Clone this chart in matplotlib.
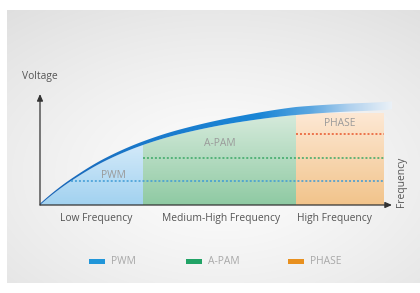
import numpy as np
import matplotlib
matplotlib.use("Agg")
import matplotlib.pyplot as plt
from matplotlib.colors import to_rgb
from matplotlib.patches import Polygon, Rectangle

# ---------------- data ----------------
regions = ["Low Frequency", "Medium-High Frequency", "High Frequency"]
region_edges = [0, 103, 256, 344]          # frequency (relative units)
region_names = ["PWM", "A-PAM", "PHASE"]
curve_x = [0, 15, 31, 65, 103, 140, 200, 256, 300, 344, 356]
curve_y = [0, 12.5, 24, 44, 60, 71, 83, 90, 93, 95, 96]
phase_top = 92
levels = [24, 47, 71]                      # dotted levels for PWM, A-PAM, PHASE
legend_labels = ["PWM", "A-PAM", "PHASE"]

# ---------------- styles ----------------
W, H, DPI = 420, 293, 100
legend_colors = ["#2196d9", "#21a366", "#e8901f"]
grad_top = ["#d2e9f9", "#d5eadb", "#fde8d4"]
grad_bot = ["#a2d2f0", "#8fcaa3", "#f2c48b"]
dot_colors = ["#3d9ad6", "#3aa866", "#e8552a"]
label_color = "#9a9a9a"
axis_text = "#555555"
FONT = ["Open Sans", "DejaVu Sans"]
FS = 7.4


def pchip(x, y, xq):
    x = np.asarray(x, float); y = np.asarray(y, float)
    h = np.diff(x); d = np.diff(y) / h
    m = np.zeros_like(y)
    for i in range(1, len(x) - 1):
        if d[i - 1] * d[i] > 0:
            w1 = 2 * h[i] + h[i - 1]; w2 = h[i] + 2 * h[i - 1]
            m[i] = (w1 + w2) / (w1 / d[i - 1] + w2 / d[i])
    m[0] = ((2 * h[0] + h[1]) * d[0] - h[0] * d[1]) / (h[0] + h[1])
    m[-1] = d[-1]
    idx = np.clip(np.searchsorted(x, xq) - 1, 0, len(x) - 2)
    t = (xq - x[idx]) / h[idx]
    h00 = 2 * t**3 - 3 * t**2 + 1; h10 = t**3 - 2 * t**2 + t
    h01 = -2 * t**3 + 3 * t**2; h11 = t**3 - t**2
    return h00 * y[idx] + h10 * h[idx] * m[idx] + h01 * y[idx + 1] + h11 * h[idx] * m[idx + 1]


fig = plt.figure(figsize=(W / DPI, H / DPI), dpi=DPI)
fig.patch.set_facecolor("white")

# background panel
bg = fig.add_axes([0, 0, 1, 1], zorder=0)
bg.axis("off")
yy, xx = np.mgrid[0:140, 0:200]
cx, cy = 0.52, 0.6
r = np.sqrt(((xx / 199 - cx) / 0.75) ** 2 + ((yy / 139 - cy) / 0.7) ** 2)
v = np.clip(0.99 - 0.1 * r ** 1.3, 0, 1)
img = np.dstack([v, v, v])
bg.imshow(img, extent=(7, W, 283, 10), aspect="auto", interpolation="bilinear", zorder=0)
bg.set_xlim(0, W)
bg.set_ylim(H, 0)

# main chart axes (pixel-like units)
x0p, y0p, x1p, y1p = 40, 205, 392, 94
ax = fig.add_axes([x0p / W, (H - y0p) / H, (x1p - x0p) / W, (y0p - y1p) / H], zorder=1)
ax.set_facecolor("none")
ax.axis("off")

xd = np.linspace(curve_x[0], curve_x[-1], 800)
yd = pchip(curve_x, curve_y, xd)


def vgrad(ctop, cbot, n=100):
    t = np.linspace(0, 1, n)[:, None]
    a = np.array(to_rgb(ctop))
    b = np.array(to_rgb(cbot))
    return (a * (1 - t) + b * t)[:, None, :].repeat(2, axis=1)


for i in range(3):
    xa, xb = region_edges[i], region_edges[i + 1]
    m = (xd >= xa) & (xd <= xb)
    xs = xd[m]
    if i < 2:
        ys = yd[m]
        top = ys.max()
    else:
        ys = np.full_like(xs, phase_top)
        top = phase_top
    verts = np.vstack([[xa, 0], [xa, ys[0]], np.column_stack([xs, ys]), [xb, ys[-1]], [xb, 0]])
    patch = Polygon(verts, closed=True, facecolor="none", edgecolor="none")
    ax.add_patch(patch)
    im = ax.imshow(vgrad(grad_top[i], grad_bot[i]), extent=(xa, xb, 0, top),
                   aspect="auto", interpolation="bilinear", zorder=1)
    im.set_clip_path(patch)

# curve band with gradient
thick = np.interp(xd, [0, 31, 103, 200, 256, 356], [1.3, 2.0, 3.6, 6.0, 8.0, 8.0])
verts = np.vstack([np.column_stack([xd, yd]), np.column_stack([xd[::-1], (yd + thick)[::-1]])])
band = Polygon(verts, closed=True, facecolor="none", edgecolor="none")
ax.add_patch(band)
stops_x = [0, 100, 220, 270, 310, 356]
stops_c = ["#1864b6", "#1a79cb", "#1a86d6", "#5aa6e0", "#b0d1ee", "#f0f4f8"]
gx = np.linspace(0, 356, 400)
rgb = np.array([to_rgb(c) for c in stops_c])
gimg = np.stack([np.interp(gx, stops_x, rgb[:, j]) for j in range(3)], axis=-1)[None, :, :].repeat(2, axis=0)
im = ax.imshow(gimg, extent=(0, 356, 0, 111), aspect="auto", interpolation="bilinear", zorder=2)
im.set_clip_path(band)

# dotted levels
starts = [float(np.interp(levels[0], yd, xd)), region_edges[1], region_edges[2]]
for i in range(3):
    ax.plot([starts[i], region_edges[3]], [levels[i], levels[i]], color=dot_colors[i],
            lw=1.1, ls=(0, (1.3, 1.3)), zorder=3)

# region labels
label_pos = [(73, 29), (180, 62), (300, 81)]
for name, (lx, ly) in zip(region_names, label_pos):
    ax.text(lx, ly, name, color=label_color, fontsize=FS, ha="center", va="center",
            family=FONT, zorder=4)

ax.set_xlim(0, x1p - x0p)
ax.set_ylim(0, y0p - y1p)

# axes arrows
arr = dict(arrowstyle="-|>,head_length=0.5,head_width=0.22", color="#333333", lw=0.9,
           shrinkA=0, shrinkB=0, mutation_scale=8)
ax.annotate("", xy=(0, 1), xytext=(0, 0), xycoords="axes fraction", arrowprops=arr, zorder=5)
ax.annotate("", xy=(1, 0), xytext=(0, 0), xycoords="axes fraction", arrowprops=arr, zorder=5)

# axis texts
bg.text(22, 76, "Voltage", color=axis_text, fontsize=FS, ha="left", va="center", family=FONT)
bg.text(401, 182, "Frequency", color=axis_text, fontsize=FS, ha="center", va="center",
        rotation=90, family=FONT)
cat_x = [96, 221, 334]
for name, cx_ in zip(regions, cat_x):
    bg.text(cx_, 219, name, color=axis_text, fontsize=FS, ha="center", va="center", family=FONT)

# legend
leg_x = [89, 186, 288]
for lbl, col, lx in zip(legend_labels, legend_colors, leg_x):
    bg.add_patch(Rectangle((lx, 259), 16, 5, facecolor=col, edgecolor="none"))
    bg.text(lx + 22, 261.5, lbl, color="#a8a8a8", fontsize=FS, ha="left", va="center", family=FONT)

fig.savefig("out.png", dpi=DPI, facecolor="white")
